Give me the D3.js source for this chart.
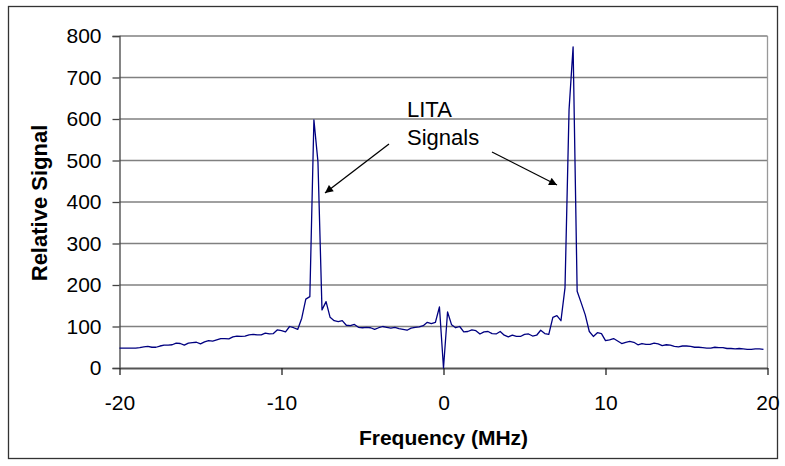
<!DOCTYPE html>
<html>
<head>
<meta charset="utf-8">
<script src="https://cdn.jsdelivr.net/npm/d3@7"></script>
<style>
  body { margin: 0; background: #fff; }
  svg { display: block; font-family: "Liberation Sans", Arial, sans-serif; }
</style>
</head>
<body>
<svg width="785" height="466"></svg>
<script>
// relative signal, one value per 0.25 MHz bin from -20 to 19.75
const signalNeg = [
  48, 48, 48, 48, 48, 49, 51, 52, 50, 50, 53, 55, 55, 56, 60, 59, 55, 60, 61, 62,
  58, 63, 66, 65, 68, 71, 71, 70, 75, 77, 76, 77, 80, 81, 80, 80, 84, 82, 83, 92,
  90, 87, 100, 97, 93, 120, 166, 172, 598, 497, 140, 160, 122, 114, 112, 114, 103, 102, 105, 98,
  97, 98, 97, 93, 97, 100, 98, 96, 98, 95, 93, 91, 96, 98, 99, 102, 110, 107, 110, 147
];
const signalPos = [
  0, 135, 104, 97, 100, 87, 88, 92, 90, 82, 87, 88, 83, 82, 88, 79, 75, 79, 76, 76,
  81, 82, 77, 79, 91, 83, 81, 122, 126, 114, 193, 622, 774, 185, 157, 128, 88, 76, 85, 83,
  66, 68, 71, 65, 59, 62, 64, 62, 56, 59, 57, 57, 60, 58, 54, 56, 55, 52, 51, 53,
  53, 52, 50, 50, 49, 48, 48, 50, 49, 49, 47, 47, 46, 47, 46, 45, 45, 46, 46, 45
];
const freqStep = 0.25;
const xTicks = [-20, -10, 0, 10, 20];
const yTicks = [0, 100, 200, 300, 400, 500, 600, 700, 800];
const labelLines = ["LITA", "Signals"];

const signal = signalNeg.concat(signalPos);
const data = signal.map((v, i) => ({ f: -20 + i * freqStep, v: v }));

const svg = d3.select("svg");

// outer chart frame
svg.append("rect")
  .attr("x", 8.5).attr("y", 6.5)
  .attr("width", 769).attr("height", 452)
  .attr("fill", "none")
  .attr("stroke", "#333")
  .attr("stroke-width", 1.3);

const x = d3.scaleLinear().domain([-20, 20]).range([119.5, 767.5]);
const y = d3.scaleLinear().domain([0, 800]).range([368, 36]);

// gridlines
svg.append("g")
  .selectAll("line")
  .data(yTicks.filter((d) => d > 0))
  .enter()
  .append("line")
  .attr("x1", x(-20)).attr("x2", x(20))
  .attr("y1", (d) => y(d)).attr("y2", (d) => y(d))
  .attr("stroke", "#808080")
  .attr("stroke-width", 1.3);

// right edge of plot area
svg.append("line")
  .attr("x1", x(20)).attr("x2", x(20))
  .attr("y1", y(800)).attr("y2", y(0))
  .attr("stroke", "#999")
  .attr("stroke-width", 1.3);

// y axis
const yAxis = svg.append("g")
  .attr("transform", `translate(${x(-20)},0)`)
  .call(d3.axisLeft(y).tickValues(yTicks).tickFormat((d) => String(d)).tickSize(7).tickPadding(11));
yAxis.select(".domain").attr("stroke", "#444").attr("stroke-width", 1.3);
yAxis.selectAll(".tick line").attr("stroke", "#444").attr("stroke-width", 1.3);
yAxis.selectAll("text")
  .attr("font-size", 21)
  .attr("font-family", "Liberation Sans, Arial, sans-serif")
  .attr("fill", "#000");

// x axis
const xAxis = svg.append("g")
  .attr("transform", `translate(0,${y(0)})`)
  .call(d3.axisBottom(x).tickValues(xTicks).tickFormat((d) => String(d)).tickSize(7).tickPadding(20).tickSizeOuter(0));
xAxis.select(".domain").attr("stroke", "#555").attr("stroke-width", 2.2);
xAxis.selectAll(".tick line").attr("stroke", "#222").attr("stroke-width", 1.3);
xAxis.selectAll("text")
  .attr("font-size", 21)
  .attr("font-family", "Liberation Sans, Arial, sans-serif")
  .attr("fill", "#000");

// signal trace
const line = d3.line().x((d) => x(d.f)).y((d) => y(d.v));
svg.append("path")
  .datum(data)
  .attr("d", line)
  .attr("fill", "none")
  .attr("stroke", "#000080")
  .attr("stroke-width", 1.3)
  .attr("stroke-linejoin", "round");

// axis titles
svg.append("text")
  .attr("x", x(0)).attr("y", 445)
  .attr("text-anchor", "middle")
  .attr("font-size", 21)
  .attr("font-weight", "bold")
  .text("Frequency (MHz)");

svg.append("text")
  .attr("transform", `translate(47,203) rotate(-90)`)
  .attr("text-anchor", "middle")
  .attr("font-size", 22)
  .attr("font-weight", "bold")
  .text("Relative Signal");

// annotation
svg.append("defs").append("marker")
  .attr("id", "head")
  .attr("viewBox", "0 0 10 10")
  .attr("refX", 10).attr("refY", 5)
  .attr("markerWidth", 11).attr("markerHeight", 8)
  .attr("markerUnits", "userSpaceOnUse")
  .attr("orient", "auto")
  .append("path")
  .attr("d", "M0,0L10,5L0,10Z")
  .attr("fill", "#000");

svg.append("g")
  .selectAll("text")
  .data(labelLines)
  .enter()
  .append("text")
  .attr("x", 407)
  .attr("y", (d, i) => 117 + i * 28)
  .attr("font-size", 22)
  .text((d) => d);

const arrows = [
  [389, 144, 325, 193],
  [492, 152, 557, 185]
];
svg.append("g")
  .selectAll("line")
  .data(arrows)
  .enter()
  .append("line")
  .attr("x1", (d) => d[0]).attr("y1", (d) => d[1])
  .attr("x2", (d) => d[2]).attr("y2", (d) => d[3])
  .attr("stroke", "#000")
  .attr("stroke-width", 1.3)
  .attr("marker-end", "url(#head)");
</script>
</body>
</html>
